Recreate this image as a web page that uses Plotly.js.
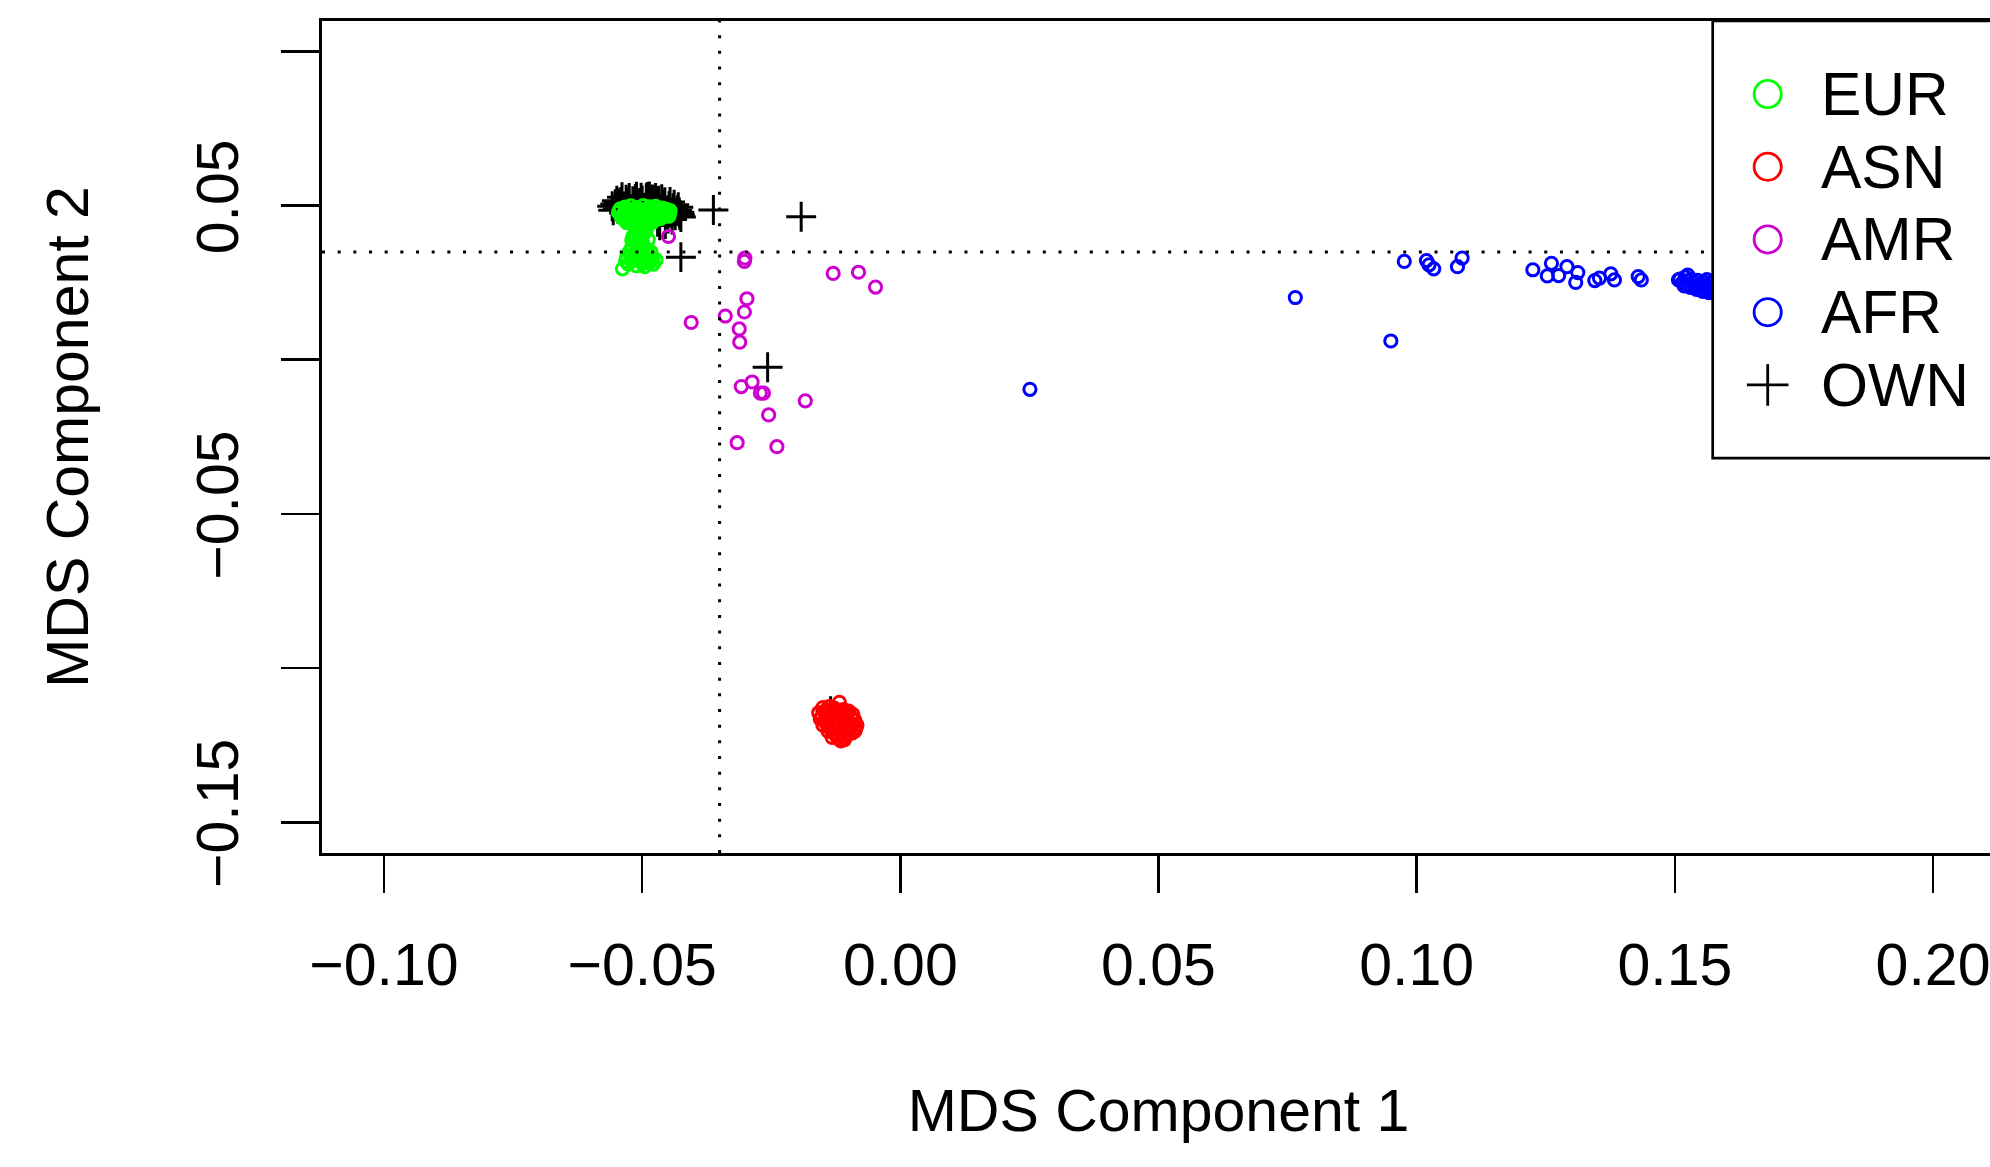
<!DOCTYPE html>
<html><head><meta charset="utf-8">
<script src="https://cdn.plot.ly/plotly-3.0.1.min.js"></script>
<style>html,body{margin:0;padding:0;overflow:hidden;background:#fff;width:1990px;height:1167px}#chart{width:2000px;height:1167px}</style>
</head><body><div id="chart"></div><script>
// ---- data (MDS component 1, component 2) ----
const ownX = [-0.0558,-0.0552,-0.0547,-0.0541,-0.0536,-0.0531,-0.0527,-0.0522,-0.0518,-0.0513,-0.0509,-0.0505,-0.0500,-0.0496,-0.0492,-0.0488,-0.0484,-0.0480,-0.0476,-0.0472,-0.0468,-0.0464,-0.0460,-0.0456,-0.0452,-0.0448,-0.0444,-0.0440,-0.0436,-0.0432,-0.0428,-0.0425,-0.0450,-0.0470,-0.0515,-0.0535,-0.0498,-0.0545,-0.0525,-0.0490,
  -0.0556,-0.0549,-0.0539,-0.0529,-0.0511,-0.0502,-0.0486,-0.0474,-0.0462,-0.0446,-0.0438,-0.0430,-0.0427,-0.0442,-0.0455,-0.0466,
  -0.0362,-0.0192,-0.0425,-0.0257,-0.0135,-0.0140];
const ownY = [0.0498,0.0505,0.0490,0.0512,0.0497,0.0519,0.0503,0.0488,0.0514,0.0522,0.0499,0.0509,0.0517,0.0493,0.0524,0.0505,0.0512,0.0520,0.0497,0.0510,0.0516,0.0489,0.0503,0.0511,0.0484,0.0498,0.0476,0.0492,0.0469,0.0485,0.0478,0.0463,0.0458,0.0448,0.0480,0.0476,0.0470,0.0508,0.0525,0.0528,
  0.0485,0.0516,0.0527,0.0510,0.0529,0.0526,0.0530,0.0525,0.0521,0.0512,0.0503,0.0495,0.0470,0.0455,0.0440,0.0436,
  0.0486,0.0464,0.0333,-0.0024,-0.1140,-0.1165];

const eurX = [-0.0546,-0.0542,-0.0538,-0.0533,-0.0530,-0.0525,-0.0522,-0.0518,-0.0514,-0.0510,-0.0506,-0.0502,-0.0498,-0.0494,-0.0490,-0.0486,-0.0482,-0.0478,-0.0474,-0.0470,-0.0466,-0.0462,-0.0458,-0.0454,-0.0450,-0.0446,-0.0520,-0.0505,-0.0490,-0.0475,-0.0535,
  -0.0544,-0.0536,-0.0527,-0.0516,-0.0508,-0.0497,-0.0488,-0.0479,-0.0468,-0.0460,-0.0452,-0.0447,-0.0540,-0.0528,-0.0512,-0.0500,-0.0484,-0.0472,-0.0458,-0.0448,-0.0530,-0.0515,-0.0495,-0.0480,-0.0465,
  -0.0515,-0.0500,-0.0510,-0.0496,-0.0518,-0.0504,-0.0512,-0.0498,-0.0520,-0.0506,-0.0490,-0.0525,-0.0514,-0.0500,-0.0485,-0.0530,-0.0518,-0.0505,-0.0490,-0.0480,-0.0527,-0.0511,-0.0495,-0.0478,-0.0538,-0.0473,
  -0.0508,-0.0492,-0.0514,-0.0502,-0.0488,-0.0520,-0.0509,-0.0497,-0.0483,-0.0522,-0.0508,-0.0493,-0.0532,-0.0500,-0.0486];
const eurY = [0.0478,0.0490,0.0466,0.0495,0.0480,0.0460,0.0499,0.0486,0.0470,0.0494,0.0479,0.0462,0.0500,0.0485,0.0470,0.0496,0.0480,0.0465,0.0498,0.0484,0.0470,0.0492,0.0478,0.0489,0.0476,0.0484,0.0450,0.0445,0.0452,0.0455,0.0455,
  0.0485,0.0473,0.0488,0.0478,0.0487,0.0476,0.0483,0.0490,0.0477,0.0486,0.0467,0.0476,0.0462,0.0470,0.0458,0.0467,0.0458,0.0460,0.0465,0.0466,0.0445,0.0448,0.0442,0.0446,0.0458,
  0.0435,0.0430,0.0418,0.0410,0.0400,0.0395,0.0382,0.0375,0.0368,0.0360,0.0355,0.0350,0.0342,0.0338,0.0340,0.0333,0.0325,0.0320,0.0318,0.0328,0.0310,0.0305,0.0302,0.0310,0.0295,0.0324,
  0.0425,0.0422,0.0408,0.0402,0.0390,0.0388,0.0370,0.0365,0.0350,0.0338,0.0330,0.0328,0.0320,0.0312,0.0315];

const asnX = [-0.0118,-0.0150,-0.0138,-0.0128,-0.0110,-0.0100,-0.0158,-0.0145,-0.0132,-0.0120,-0.0108,-0.0095,-0.0088,-0.0155,-0.0142,-0.0130,-0.0118,-0.0105,-0.0084,-0.0150,-0.0138,-0.0125,-0.0112,-0.0098,-0.0088,-0.0140,-0.0128,-0.0115,-0.0102,-0.0132,-0.0120,-0.0108,-0.0115,
  -0.0146,-0.0134,-0.0122,-0.0114,-0.0104,-0.0092,-0.0152,-0.0136,-0.0124,-0.0110,-0.0094,-0.0086,-0.0144,-0.0126,-0.0106,-0.0093,-0.0135,-0.0117,-0.0100,-0.0124,-0.0112];
const asnY = [-0.1111,-0.1128,-0.1125,-0.1130,-0.1135,-0.1140,-0.1145,-0.1150,-0.1148,-0.1152,-0.1155,-0.1160,-0.1170,-0.1165,-0.1170,-0.1168,-0.1172,-0.1175,-0.1185,-0.1185,-0.1190,-0.1188,-0.1192,-0.1195,-0.1205,-0.1205,-0.1210,-0.1212,-0.1215,-0.1225,-0.1230,-0.1232,-0.1236,
  -0.1140,-0.1138,-0.1140,-0.1145,-0.1148,-0.1150,-0.1158,-0.1160,-0.1162,-0.1165,-0.1180,-0.1195,-0.1178,-0.1180,-0.1185,-0.1210,-0.1198,-0.1200,-0.1203,-0.1220,-0.1222];

const amrX = [-0.0301,-0.0302,-0.0130,-0.0081,-0.0048,-0.0297,-0.0302,-0.0339,-0.0405,-0.0312,-0.0311,-0.0287,-0.0308,-0.0271,-0.0265,-0.0184,-0.0255,-0.0316,-0.0239,-0.0449];
const amrY = [0.0330,0.0319,0.0280,0.0284,0.0236,0.0198,0.0155,0.0142,0.0121,0.0100,0.0057,-0.0072,-0.0087,-0.0108,-0.0108,-0.0133,-0.0179,-0.0269,-0.0282,0.0400];

const afrX = [0.0251,0.0765,0.0950,0.0976,0.1019,0.1024,0.1033,0.1079,0.1088,0.1225,0.1253,0.1261,0.1275,0.1291,0.1312,0.1308,0.1345,0.1354,0.1376,0.1383,0.1429,0.1435,0.1507,0.1525,
  0.1510,0.1515,0.1520,0.1524,0.1528,0.1532,0.1536,0.1540,0.1544,0.1548,0.1552,0.1556,0.1560,0.1564,0.1568,0.1572,0.1576,0.1580,0.1590,0.1600,0.1620,0.1650,0.1700,0.1750,
  0.1518,0.1530,0.1542,0.1554,0.1566,0.1578,0.1585,0.1595,0.1562,0.1574];
const afrY = [-0.0096,0.0202,0.0061,0.0319,0.0322,0.0308,0.0295,0.0302,0.0330,0.0292,0.0272,0.0313,0.0273,0.0302,0.0283,0.0251,0.0257,0.0265,0.0279,0.0259,0.0270,0.0259,0.0259,0.0275,
  0.0262,0.0250,0.0268,0.0255,0.0243,0.0262,0.0250,0.0238,0.0258,0.0245,0.0232,0.0252,0.0240,0.0228,0.0248,0.0236,0.0222,0.0245,0.0232,0.0220,0.0240,0.0228,0.0235,0.0225,
  0.0240,0.0235,0.0228,0.0222,0.0218,0.0215,0.0226,0.0212,0.0260,0.0255];

const groupNames = ['EUR','ASN','AMR','AFR','OWN'];
const groupColors = ['#00FF00','#FF0000','#CD00CD','#0000FF','#000000'];
const xTickVals = [-0.10,-0.05,0.00,0.05,0.10,0.15,0.20];
const xTickText = ['\u22120.10','\u22120.05','0.00','0.05','0.10','0.15','0.20'];
const yTickVals = [0.10,0.05,0.00,-0.05,-0.10,-0.15];
const yTickText = ['','0.05','','\u22120.05','','\u22120.15'];
const refX = -0.035, refY = 0.035;

// ---- geometry ----
const W = 2000, H = 1167, ML = 322, MR = 5, MT = 21.3, MB = 314;
const PW = W - ML - MR, PH = H - MT - MB;
const FONT = 'Liberation Sans, Arial, Helvetica, sans-serif';
const px2paperX = p => (p - ML) / PW;
const py2paperY = p => (H - MB - p) / PH;

const circ = {size: 12.2, line: 3.0};
function ptTrace(x, y, color, name) {
  return {type:'scatter', mode:'markers', x:x, y:y, name:name, showlegend:false, hoverinfo:'skip',
    marker:{symbol:'circle-open', size:circ.size, color:color, line:{width:circ.line, color:color}}};
}
const traces = [
  {type:'scatter', mode:'markers', x:ownX, y:ownY, name:'OWN', showlegend:false, hoverinfo:'skip',
    marker:{symbol:'cross-thin-open', size:21.4, color:'#000', line:{width:3.0, color:'#000'}}},
  ptTrace(eurX, eurY, groupColors[0], 'EUR'),
  ptTrace(asnX, asnY, groupColors[1], 'ASN'),
  ptTrace(amrX, amrY, groupColors[2], 'AMR'),
  ptTrace(afrX, afrY, groupColors[3], 'AFR')
];

const dotDash = '3px,12.67px';
const shapes = [
  {type:'line', xref:'x', yref:'paper', x0:refX, x1:refX, y0:0, y1:1, line:{color:'#000', width:3, dash:dotDash}},
  {type:'line', xref:'paper', yref:'y', x0:0, x1:1, y0:refY, y1:refY, line:{color:'#000', width:3, dash:dotDash}},
  // legend box
  {type:'rect', xref:'paper', yref:'paper', x0:px2paperX(1712.7), x1:px2paperX(2100), y0:py2paperY(458.3), y1:py2paperY(21.3),
    fillcolor:'#fff', line:{color:'#000', width:2.7}}
];
const annotations = [];
const legX = 1767.7, legY0 = 94.3, legDY = 72.7;
groupNames.forEach((g, i) => {
  const cy = legY0 + i * legDY;
  const xa = px2paperX(legX), ya = py2paperY(cy);
  if (g === 'OWN') {
    shapes.push({type:'line', xref:'paper', yref:'paper', xsizemode:'pixel', ysizemode:'pixel', xanchor:xa, yanchor:ya,
      x0:-20.8, x1:20.8, y0:0, y1:0, line:{color:groupColors[i], width:2.8}});
    shapes.push({type:'line', xref:'paper', yref:'paper', xsizemode:'pixel', ysizemode:'pixel', xanchor:xa, yanchor:ya,
      x0:0, x1:0, y0:-20.8, y1:20.8, line:{color:groupColors[i], width:2.8}});
  } else {
    shapes.push({type:'circle', xref:'paper', yref:'paper', xsizemode:'pixel', ysizemode:'pixel', xanchor:xa, yanchor:ya,
      x0:-13.6, x1:13.6, y0:-13.6, y1:13.6, line:{color:groupColors[i], width:2.8}, fillcolor:'rgba(0,0,0,0)'});
  }
  annotations.push({xref:'paper', yref:'paper', x:px2paperX(1819), y:ya, xanchor:'left', yanchor:'middle',
    text:g, showarrow:false, font:{family:FONT, size:60.5, color:'#000'}});
});

const layout = {
  width:W, height:H, margin:{l:ML, r:MR, t:MT, b:MB, pad:0},
  paper_bgcolor:'#fff', plot_bgcolor:'#fff', showlegend:false,
  font:{family:FONT, size:59, color:'#000'},
  xaxis:{range:[-0.112, 0.212], tickmode:'array', tickvals:xTickVals, ticktext:xTickText,
    ticks:'outside', ticklen:37, tickwidth:2.7, tickcolor:'#000', showline:true, linewidth:2.7, linecolor:'#000', mirror:true,
    showgrid:false, zeroline:false, tickfont:{family:FONT, size:59}, ticklabelstandoff:21,
    title:{text:'MDS Component 1', font:{family:FONT, size:59}, standoff:94}, automargin:false},
  yaxis:{range:[-0.16, 0.1099], tickmode:'array', tickvals:yTickVals, ticktext:yTickText, tickangle:-90,
    ticks:'outside', ticklen:38, tickwidth:2.7, tickcolor:'#000', showline:true, linewidth:2.7, linecolor:'#000', mirror:true,
    showgrid:false, zeroline:false, tickfont:{family:FONT, size:59}, ticklabelstandoff:20,
    title:{text:'MDS Component 2', font:{family:FONT, size:59}, standoff:77}, automargin:false},
  shapes:shapes, annotations:annotations
};
Plotly.newPlot('chart', traces, layout, {displayModeBar:false, staticPlot:true});
</script></body></html>
